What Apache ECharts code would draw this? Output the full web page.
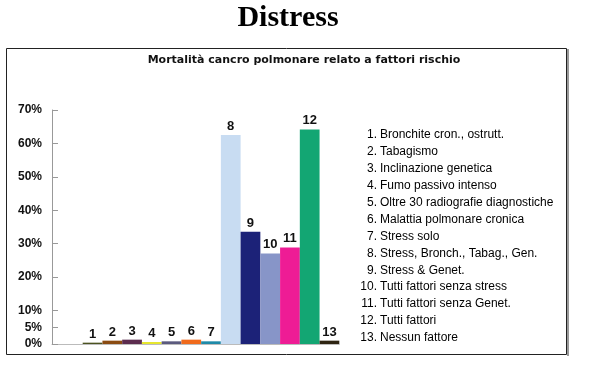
<!DOCTYPE html>
<html><head><meta charset="utf-8">
<script src="https://cdn.jsdelivr.net/npm/echarts@6/dist/echarts.min.js"></script>
<style>html,body{margin:0;padding:0;background:#fff}#c{width:590px;height:367px}</style>
</head><body><div id="c"></div>
<script>
const categories = [1,2,3,4,5,6,7,8,9,10,11,12,13];
const values = [0.4,1.0,1.3,0.6,0.8,1.3,0.8,62.5,33.6,27.1,28.9,64.2,1.0];
const barColors = ['#4b5320','#8a4b12','#5c2c4e','#e6e62e','#5b5a7e','#f06a1c','#1e8aa8','#c8dcf2','#1c2278','#8795c8','#ee1c95','#13a673','#2e2412'];
const legendLabels = ['Bronchite cron., ostrutt.','Tabagismo','Inclinazione genetica','Fumo passivo intenso','Oltre 30 radiografie diagnostiche','Malattia polmonare cronica','Stress solo','Stress, Bronch., Tabag., Gen.','Stress & Genet.','Tutti fattori senza stress','Tutti fattori senza Genet.','Tutti fattori','Nessun fattore'];
const yTicks = [0,5,10,20,30,40,50,60,70];

const chart = echarts.init(document.getElementById('c'));
const graphics = [
  {type:'rect', shape:{x:6.5,y:48.5,width:560,height:306}, style:{fill:'none',stroke:'#222',lineWidth:1}, z:-1},
  {type:'line', shape:{x1:568,y1:49,x2:568,y2:356}, style:{stroke:'#999',lineWidth:2}},
  {type:'text', x:288, y:18, style:{text:'Distress', font:'bold 30px "Liberation Serif"', fill:'#000', textAlign:'center', textVerticalAlign:'middle'}},
  {type:'text', x:304, y:60, style:{text:'Mortalità cancro polmonare relato a fattori rischio', font:'bold 11px "DejaVu Sans"', fill:'#111', textAlign:'center', textVerticalAlign:'middle'}}
];
legendLabels.forEach((t,i)=>{
  const y = 135 + i*16.9;
  graphics.push({type:'text', x:377, y:y, style:{text:categories[i]+'.', font:'12px "Liberation Sans"', fill:'#000', textAlign:'right', textVerticalAlign:'middle'}});
  graphics.push({type:'text', x:380, y:y, style:{text:t, font:'12px "Liberation Sans"', fill:'#000', textAlign:'left', textVerticalAlign:'middle'}});
});

chart.setOption({
  animation:false,
  backgroundColor:'#fff',
  grid:{left:52, right:250.7, top:110, bottom:23, containLabel:false},
  xAxis:{type:'value', min:-1.055, max:13.5, axisLine:{show:true,onZero:false,lineStyle:{color:'#bbb',width:1}}, axisTick:{show:false}, axisLabel:{show:false}, splitLine:{show:false}},
  yAxis:{type:'value', min:0, max:70,
    axisLine:{show:true,onZero:false,lineStyle:{color:'#999',width:1}},
    axisTick:{show:true, inside:true, length:6, lineStyle:{color:'#999'}, customValues:yTicks},
    axisLabel:{show:true, customValues:yTicks, formatter:v=>v+'%', margin:10, color:'#111', fontWeight:'bold', fontSize:12, fontFamily:'Liberation Sans'},
    splitLine:{show:false}},
  series:[{
    type:'bar', barWidth:19.74,
    data: categories.map((c,i)=>({value:[c, values[i]], itemStyle:{color:barColors[i]}})),
    label:{show:true, position:'top', distance:2, formatter:p=>String(p.value[0]), color:'#111', fontWeight:'bold', fontSize:13, fontFamily:'Liberation Sans'}
  }],
  graphic: graphics
});
</script></body></html>
